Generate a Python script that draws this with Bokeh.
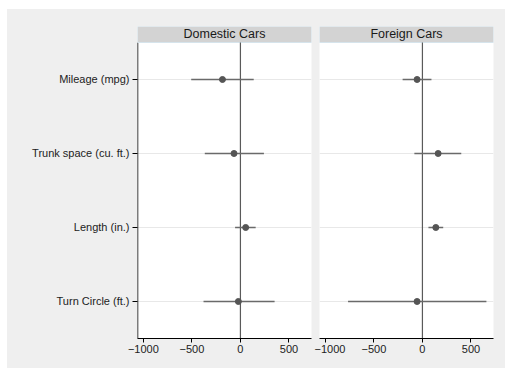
from bokeh.plotting import figure
from bokeh.models import Range1d, FixedTicker, ColumnDataSource
from bokeh.layouts import row
from bokeh.core.properties import value
from bokeh.embed import file_html
from bokeh.resources import INLINE

# ---- data ----
categories = ["Mileage (mpg)", "Trunk space (cu. ft.)", "Length (in.)", "Turn Circle (ft.)"]
panels = ["Domestic Cars", "Foreign Cars"]
dom_est = [-185, -66, 54, -21]
dom_lo = [-507, -367, -55, -380]
dom_hi = [137, 242, 157, 352]
for_est = [-55, 162, 138, -55]
for_lo = [-204, -83, 62, -766]
for_hi = [93, 400, 214, 659]
x_ticks = [-1000, -500, 0, 500]
x_tick_labels = ["\u22121000", "\u2212500", "0", "500"]

# ---- style ----
BG = "#efefef"
FONT = "Liberation Sans"
XMIN, XMAX = -1060, 732
Y_BOTTOM, Y_TOP = 4.5, 0.284
HEADER_BOTTOM = 0.5

ypos = list(range(1, len(categories) + 1))


def make_panel(title, est, lo, hi, show_y, width, bl, br):
    p = figure(width=width, height=359,
               x_range=Range1d(XMIN, XMAX), y_range=Range1d(Y_BOTTOM, Y_TOP),
               output_backend="svg", toolbar_location=None,
               y_axis_location="left" if show_y else None,
               min_border_left=bl, min_border_right=br,
               min_border_top=17, min_border_bottom=30,
               background_fill_color="white", border_fill_color=BG,
               outline_line_color=None)
    p.xgrid.visible = False
    p.ygrid.ticker = FixedTicker(ticks=ypos)
    p.ygrid.grid_line_color = "#e8e8e8"
    p.ygrid.grid_line_width = 1

    # x axis
    xa = p.xaxis[0]
    xa.ticker = FixedTicker(ticks=x_ticks)
    xa.major_label_overrides = {t: l for t, l in zip(x_ticks, x_tick_labels)}
    xa.minor_tick_line_color = None
    xa.major_tick_in = 0
    xa.major_tick_out = 4
    xa.axis_line_color = "black"
    xa.major_tick_line_color = "black"
    xa.major_label_text_font = FONT
    xa.major_label_text_font_size = "11px"
    xa.major_label_text_color = "#222222"
    xa.major_label_standoff = 2

    if show_y:
        ya = p.yaxis[0]
        ya.ticker = FixedTicker(ticks=ypos)
        ya.major_label_overrides = {y: c for y, c in zip(ypos, categories)}
        ya.minor_tick_line_color = None
        ya.axis_line_color = None
        ya.major_tick_in = 0
        ya.major_tick_out = 5
        ya.major_tick_line_color = "black"
        ya.major_label_text_font = FONT
        ya.major_label_text_font_size = "11px"
        ya.major_label_text_color = "#222222"
        ya.major_label_standoff = 3
        # axis line (only below the header strip)
        p.segment(x0=[XMIN], x1=[XMIN], y0=[HEADER_BOTTOM], y1=[Y_BOTTOM],
                  line_color="black", line_width=1.5)

    # header strip
    p.quad(left=[XMIN], right=[XMAX], top=[Y_TOP], bottom=[HEADER_BOTTOM],
           fill_color="#d3d3d3", line_color="#d6e4ec", line_width=1)
    p.text(x=[(XMIN + XMAX) / 2], y=[(Y_TOP + HEADER_BOTTOM) / 2], text=[title],
           text_align="center", text_baseline="middle",
           text_font=value(FONT), text_font_size="12.5px", text_color="#1a1a1a")

    # zero reference line
    p.segment(x0=[0], x1=[0], y0=[HEADER_BOTTOM], y1=[Y_BOTTOM],
              line_color="#5a5a5a", line_width=1.2)

    src = ColumnDataSource(dict(y=ypos, est=est, lo=lo, hi=hi))
    p.segment(x0="lo", x1="hi", y0="y", y1="y", source=src,
              line_color="#6a6a6a", line_width=1.5)
    p.scatter(x="est", y="y", source=src, size=6,
              fill_color="#555555", line_color="#555555")
    return p


p1 = make_panel(panels[0], dom_est, dom_lo, dom_hi, True, 307, 130, 3)
p2 = make_panel(panels[1], for_est, for_lo, for_hi, False, 191, 5, 12)

layout = row(p1, p2, spacing=0)
layout.margin = (9, 0, 0, 7)
layout.styles = {"background-color": BG}

open("out.html", "w").write(file_html(layout, INLINE))
